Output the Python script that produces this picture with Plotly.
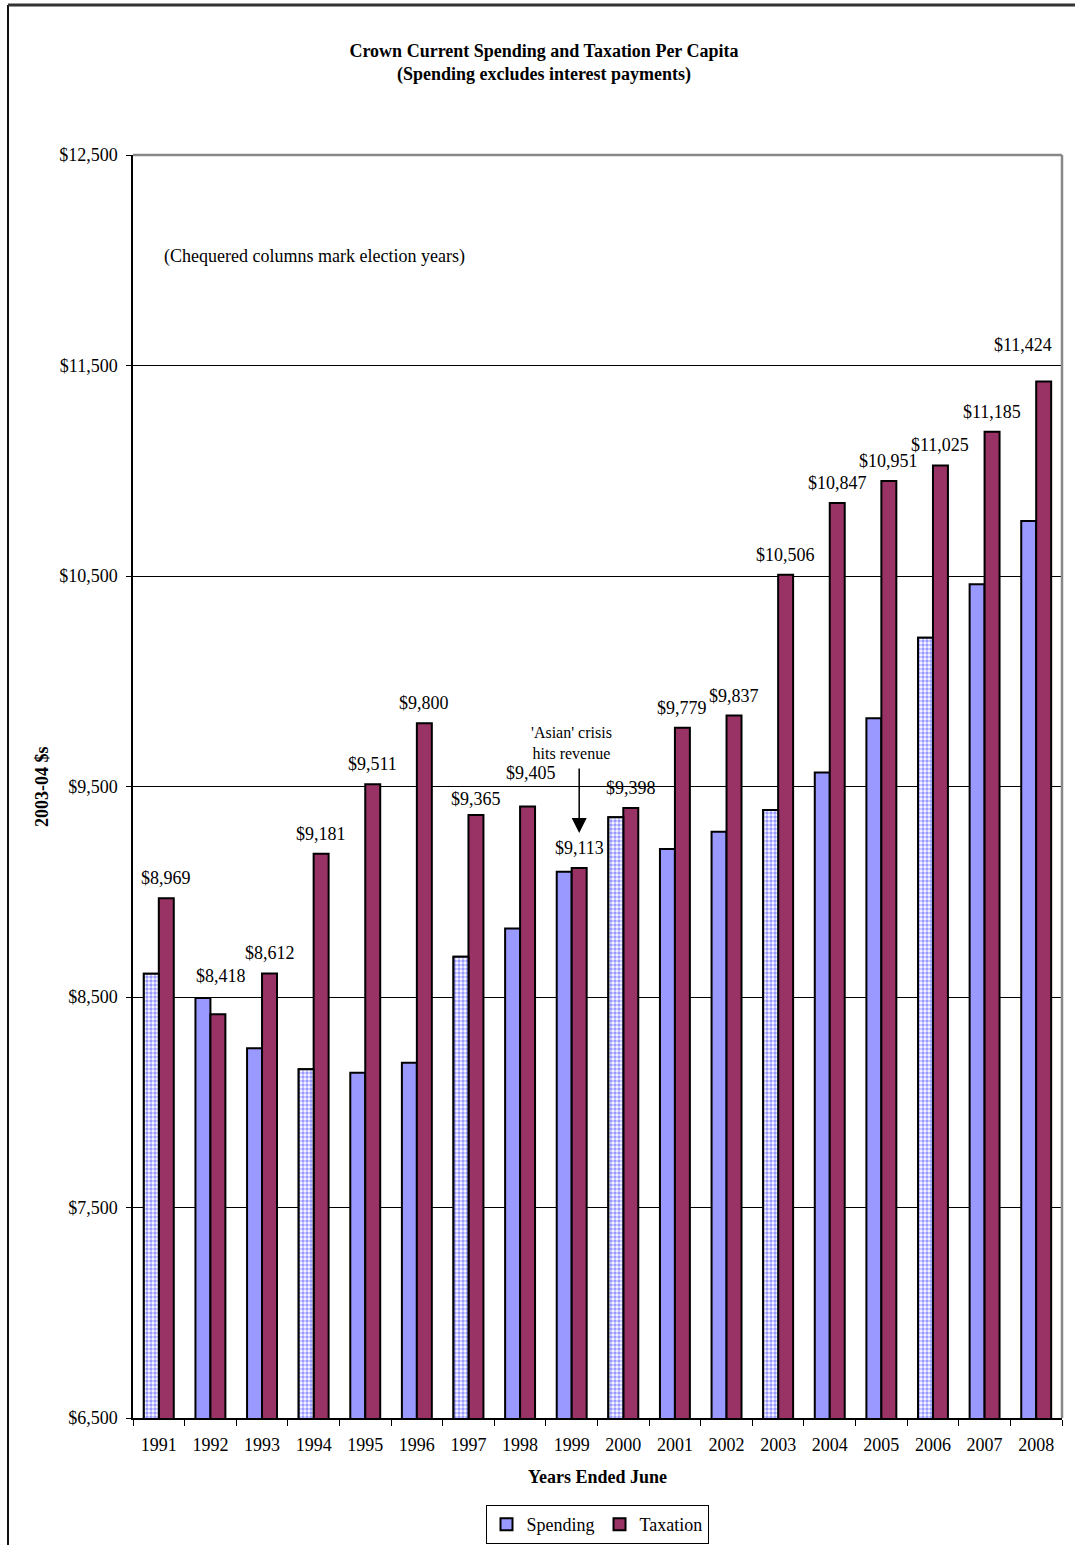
import plotly.graph_objects as go

# ---------------- data ----------------
years = ["1991", "1992", "1993", "1994", "1995", "1996", "1997", "1998", "1999",
         "2000", "2001", "2002", "2003", "2004", "2005", "2006", "2007", "2008"]
spending = [8610, 8495, 8256, 8157, 8140, 8188, 8691, 8826, 9095,
            9354, 9203, 9285, 9388, 9567, 9824, 10207, 10461, 10761]
taxation = [8969, 8418, 8612, 9181, 9511, 9800, 9365, 9405, 9113,
            9398, 9779, 9837, 10506, 10847, 10951, 11025, 11185, 11424]
election_years = ["1991", "1994", "1997", "2000", "2003", "2006"]

# ---------------- styles / layout helpers ----------------
FONT = "Liberation Serif"
W, H = 1075, 1545
L, R, T, B = 133, 13, 155, 127
PW, PH = W - L - R, H - T - B
BAR_W = 0.29
SPEND_COL = "#9999FF"
TAX_COL = "#993366"
FS = 18

def px_x(px):
    return (px - L) / PW

def px_y(py):
    return (H - B - py) / PH

def idx(yr):
    return years.index(yr)

# label nudges (xshift, yshift) for specific years
label_nudge = {"1992": (3, 18), "1997": (0, -4), "1998": (3, 14), "2008": (-21, 17)}

fig = go.Figure()

fig.add_trace(go.Bar(
    x=years, y=spending, name="Spending", offset=-BAR_W, width=BAR_W,
    marker=dict(color=SPEND_COL, line=dict(color="black", width=2)),
))
fig.add_trace(go.Bar(
    x=years, y=taxation, name="Taxation", offset=0, width=BAR_W,
    marker=dict(color=TAX_COL, line=dict(color="black", width=2)),
))
el_vals = [spending[idx(y)] for y in election_years]
fig.add_trace(go.Bar(
    x=election_years, y=el_vals, name="Spending (election)", offset=-BAR_W, width=BAR_W,
    showlegend=False,
    marker=dict(color="white", line=dict(color="black", width=2),
                pattern=dict(shape=".", fgcolor=SPEND_COL, bgcolor="white",
                             size=4, solidity=0.6, fillmode="replace")),
))

annotations = []
for yr, v in zip(years, taxation):
    dx, dy = label_nudge.get(yr, (0, 0))
    annotations.append(dict(
        x=idx(yr), y=v, xref="x", yref="y", text=f"${v:,}", showarrow=False,
        xanchor="center", yanchor="bottom", xshift=7.5 + dx, yshift=8 + dy,
        font=dict(family=FONT, size=FS, color="black"),
    ))

# notes
annotations.append(dict(
    x=px_x(162), y=px_y(256), xref="paper", yref="paper",
    text="(Chequered columns mark election years)", showarrow=False,
    xanchor="left", yanchor="middle", font=dict(family=FONT, size=FS, color="black"),
))
annotations.append(dict(
    x=idx("1999"), y=9709, xref="x", yref="y", text="'Asian' crisis<br>hits revenue",
    showarrow=False, xanchor="center", yanchor="middle",
    font=dict(family=FONT, size=16, color="black"),
))
annotations.append(dict(
    x=idx("1999"), y=9279, xref="x", yref="y", text="", showarrow=True,
    xshift=7.5, ax=0, ay=-66, axref="pixel", ayref="pixel",
    arrowhead=2, arrowsize=2, arrowwidth=1.5, arrowcolor="black", standoff=0,
))
# axis titles
annotations.append(dict(
    x=px_x(597), y=px_y(1477), xref="paper", yref="paper",
    text="<b>Years Ended June</b>", showarrow=False, xanchor="center", yanchor="middle",
    font=dict(family=FONT, size=FS, color="black"),
))
annotations.append(dict(
    x=px_x(42), y=px_y(787), xref="paper", yref="paper",
    text="<b>2003-04 $s</b>", showarrow=False, textangle=-90,
    xanchor="center", yanchor="middle", font=dict(family=FONT, size=FS, color="black"),
))

shapes = [
    # plot-area top and right border (grey)
    dict(type="line", xref="paper", yref="paper", x0=0, x1=1, y0=1, y1=1,
         line=dict(color="#888888", width=2.5)),
    dict(type="line", xref="paper", yref="paper", x0=1, x1=1, y0=0, y1=1,
         line=dict(color="#888888", width=2.5)),
    # page frame
    dict(type="line", xref="paper", yref="paper", x0=px_x(8), x1=px_x(8),
         y0=px_y(H + 5), y1=px_y(5), line=dict(color="#111111", width=2)),
    dict(type="line", xref="paper", yref="paper", x0=px_x(8), x1=px_x(W + 5),
         y0=px_y(5), y1=px_y(5), line=dict(color="#333333", width=3)),
]

fig.update_layout(
    width=W, height=H, autosize=False,
    margin=dict(l=L, r=R, t=T, b=B, pad=0),
    paper_bgcolor="white", plot_bgcolor="white",
    barmode="overlay",
    font=dict(family=FONT, size=FS, color="black"),
    title=dict(
        text="<b>Crown Current Spending and Taxation Per Capita<br>(Spending excludes interest payments)</b>",
        x=544 / W, xref="container", xanchor="center", y=1 - 57 / H, yanchor="middle",
        font=dict(family=FONT, size=FS, color="black"),
    ),
    xaxis=dict(
        type="category", range=[-0.5, len(years) - 0.5], autorange=False,
        showline=True, linecolor="black", linewidth=1.5,
        ticks="outside", tickson="boundaries", ticklen=6, tickcolor="black", tickwidth=1,
        showgrid=False, ticklabelstandoff=10, tickangle=0,
        tickfont=dict(family=FONT, size=FS, color="black"),
    ),
    yaxis=dict(
        range=[6500, 12500], autorange=False, tick0=6500, dtick=1000,
        tickprefix="$", tickformat=",d",
        showline=True, linecolor="black", linewidth=1.5,
        ticks="outside", ticklen=5, tickcolor="black", tickwidth=1,
        showgrid=True, gridcolor="black", gridwidth=1, zeroline=False,
        ticklabelstandoff=5,
        tickfont=dict(family=FONT, size=FS, color="black"),
    ),
    legend=dict(
        orientation="h", x=597 / W, xref="container", xanchor="center",
        y=(H - 1505) / H, yref="container", yanchor="top",
        bordercolor="black", borderwidth=1, bgcolor="white",
        font=dict(family=FONT, size=FS, color="black"),
        itemwidth=30, tracegroupgap=0,
    ),
    annotations=annotations,
    shapes=shapes,
    showlegend=True,
)

fig.write_html("out.html")
